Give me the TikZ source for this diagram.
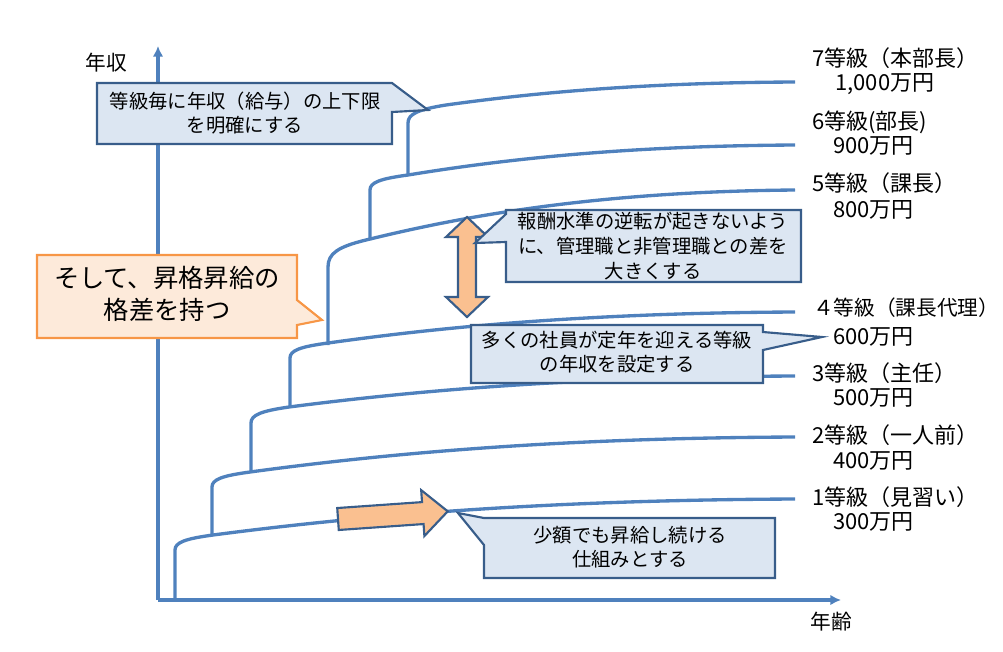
\documentclass[tikz,border=0pt]{standalone}
\usepackage{fontspec}
\setmainfont{Noto Sans CJK JP}
\usetikzlibrary{arrows.meta}
\definecolor{curveblue}{HTML}{4F81BD}
\definecolor{boxfill}{HTML}{DCE6F2}
\definecolor{boxline}{HTML}{385D8A}
\definecolor{orfill}{HTML}{FDEADA}
\definecolor{orline}{HTML}{F79646}
\definecolor{arrowfill}{HTML}{FAC090}
\newcommand{\gradecurve}[5]{%
  \pgfmathsetmacro{\gax}{#1+38}%
  \pgfmathsetmacro{\gay}{#3-#5}%
  \pgfmathsetmacro{\gL}{795-\gax}%
  \pgfmathsetmacro{\gD}{\gay-#4}%
  \pgfmathsetmacro{\gcax}{\gax+0.26*\gL}%
  \pgfmathsetmacro{\gcay}{\gay-0.55*\gD}%
  \pgfmathsetmacro{\gcbx}{795-0.43*\gL}%
  \pgfmathsetmacro{\gcby}{#4+0.03*\gD}%
  \pgfmathsetmacro{\gkx}{#1+10}%
  \pgfmathsetmacro{\gky}{#3-0.75*#5}%
  \pgfmathsetmacro{\gty}{#3-0.5*#5}%
  \draw[gradeline] (#1,#2) -- (#1,#3) .. controls (#1,\gty) and (\gkx,\gky) .. (\gax,\gay) .. controls (\gcax,\gcay) and (\gcbx,\gcby) .. (795,#4);%
}
\begin{document}
\begin{tikzpicture}[x=0.75pt,y=-0.75pt,
  gradeline/.style={curveblue,line width=2.5pt,line join=round},
  axisline/.style={curveblue,line width=2.5pt,-{Latex[length=8pt,width=8pt]}},
  bluecallout/.style={draw=boxline,fill=boxfill,line width=1.6pt,line join=miter},
  orcallout/.style={draw=orline,fill=orfill,line width=1.6pt,line join=miter},
  fatarrow/.style={draw=boxline,fill=arrowfill,line width=1.6pt,line join=miter},
  gradetxt/.style={anchor=west,inner sep=0pt,font=\fontsize{16.5}{18}\selectfont},
  calltxt/.style={align=center,inner sep=0pt,font=\fontsize{14.5}{18.5}\selectfont},
  axistxt/.style={inner sep=0pt,font=\fontsize{15.5}{18}\selectfont}]
\useasboundingbox (0,0) rectangle (1003,651);
% axes
\coordinate (origin) at (158,600);
\coordinate (ytop) at (158,46);
\coordinate (xend) at (841,600);
\draw[axisline] (origin) -- (ytop);
\draw[axisline] (origin) -- (xend);
\node[axistxt] (ylab) at (106,63) {年収};
\node[axistxt] (xlab) at (831,622) {年齢};
% grade curves
\gradecurve{175}{600}{550}{499}{15}
\gradecurve{212}{535}{487}{437}{15}
\gradecurve{251}{472}{423}{376}{16}
\gradecurve{290}{407}{358}{312}{15}
\gradecurve{328}{345}{267}{190}{27}
\gradecurve{370}{240}{190}{145}{15}
\gradecurve{408}{175}{123}{82}{18}
% double arrow
\draw[fatarrow] (467,217) -- (488,237) -- (476,237) -- (476,297) -- (488,297) -- (467,317)
  -- (446,297) -- (458,297) -- (458,237) -- (446,237) -- cycle;
% right arrow
\begin{scope}[shift={(338,519)},rotate=4]
\draw[fatarrow] (0,-11) -- (85,-11) -- (85,-23) -- (110,0) -- (85,23) -- (85,11) -- (0,11) -- cycle;
\end{scope}
% callouts
\draw[bluecallout] (97,83) -- (392,83) -- (428,110) -- (392,112) -- (392,144) -- (97,144) -- cycle;
\node[calltxt] (c1) at (245,113) {等級毎に年収（給与）の上下限\\を明確にする};
\draw[orcallout] (37,255) -- (297,255) -- (297,300) -- (322,320) -- (297,325) -- (297,338) -- (37,338) -- cycle;
\node[align=center,inner sep=0pt,font=\fontsize{19}{24.5}\selectfont] (c2) at (167,294) {そして、昇格昇給の\\格差を持つ};
\draw[bluecallout] (506,210) -- (801,210) -- (801,282) -- (506,282) -- (506,242) -- (475,243) -- (506,214) -- cycle;
\node[calltxt] (c3) at (653,246) {報酬水準の逆転が起きないよう\\に、管理職と非管理職との差を\\大きくする};
\draw[bluecallout] (471,325) -- (763,325) -- (763,332) -- (822,337) -- (763,350) -- (763,383) -- (471,383) -- cycle;
\node[calltxt] (c4) at (617,352) {多くの社員が定年を迎える等級\\の年収を設定する};
\draw[bluecallout] (484,518) -- (775,518) -- (775,578) -- (484,578) -- (484,545) -- (458,513) -- cycle;
\node[calltxt] (c5) at (630,547) {少額でも昇給し続ける\\仕組みとする};
% grade labels
\node[gradetxt] (g7a) at (812,58) {7等級（本部長）};
\node[gradetxt] (g7b) at (835,84) {1,000万円};
\node[gradetxt] (g6a) at (812,122) {6等級(部長)};
\node[gradetxt] (g6b) at (833,146) {900万円};
\node[gradetxt] (g5a) at (812,183) {5等級（課長）};
\node[gradetxt] (g5b) at (833,210) {800万円};
\node[gradetxt,font=\fontsize{15.5}{18}\selectfont] (g4a) at (813,308) {４等級（課長代理）};
\node[gradetxt] (g4b) at (833,337) {600万円};
\node[gradetxt] (g3a) at (812,373) {3等級（主任）};
\node[gradetxt] (g3b) at (833,398) {500万円};
\node[gradetxt] (g2a) at (812,435) {2等級（一人前）};
\node[gradetxt] (g2b) at (833,461) {400万円};
\node[gradetxt] (g1a) at (812,497) {1等級（見習い）};
\node[gradetxt] (g1b) at (833,522) {300万円};
\end{tikzpicture}
\end{document}
